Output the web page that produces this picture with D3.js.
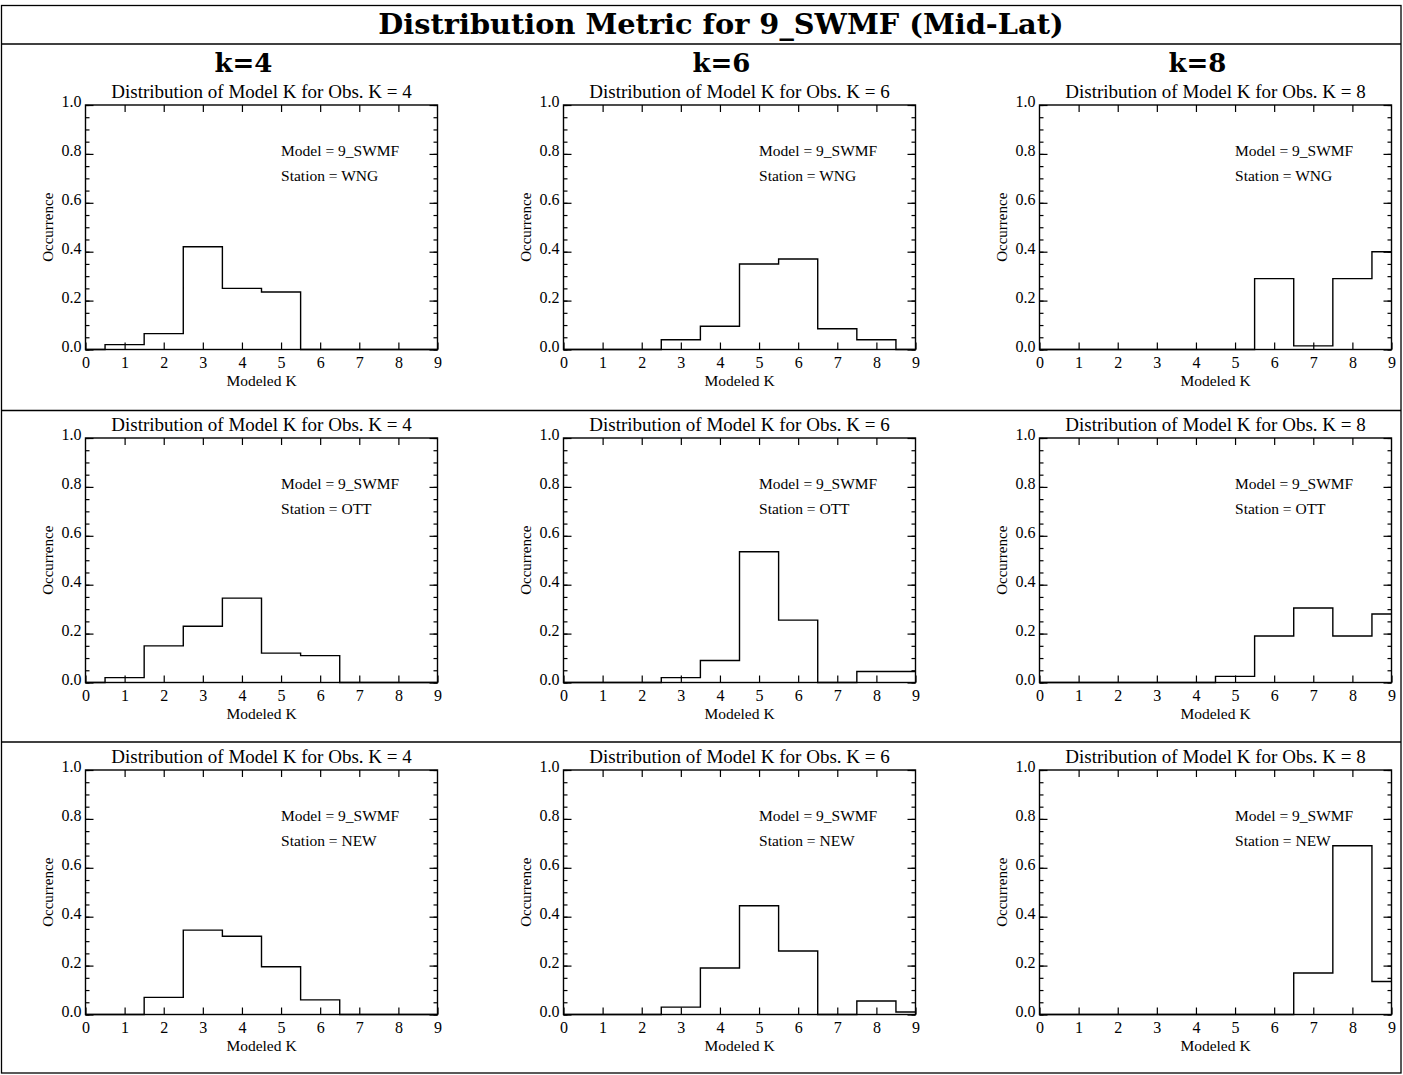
<!DOCTYPE html>
<html>
<head>
<meta charset="utf-8">
<script src="https://cdn.jsdelivr.net/npm/d3@7"></script>
<style>
  body { margin: 0; background: #fff; }
  text { fill: #000; }
</style>
</head>
<body>
<div id="chart"></div>
<script>
// Modeled K bins (0..9)
var kBins = [0, 1, 2, 3, 4, 5, 6, 7, 8, 9];
var obsK = [4, 6, 8];
var stations = ["WNG", "OTT", "NEW"];
var modelName = "9_SWMF";

// occurrence per modeled K, one array per station / observed K
var wng_k4 = [0, 0.02, 0.065, 0.42, 0.25, 0.235, 0, 0, 0, 0];
var wng_k6 = [0, 0, 0, 0.04, 0.095, 0.35, 0.37, 0.085, 0.04, 0];
var wng_k8 = [0, 0, 0, 0, 0, 0, 0.29, 0.015, 0.29, 0.40];

var ott_k4 = [0, 0.02, 0.15, 0.23, 0.345, 0.12, 0.11, 0, 0, 0];
var ott_k6 = [0, 0, 0, 0.02, 0.09, 0.535, 0.255, 0, 0.045, 0.045];
var ott_k8 = [0, 0, 0, 0, 0, 0.025, 0.19, 0.305, 0.19, 0.28];

var new_k4 = [0, 0, 0.07, 0.345, 0.32, 0.195, 0.06, 0, 0, 0];
var new_k6 = [0, 0, 0, 0.03, 0.19, 0.445, 0.26, 0, 0.055, 0.01];
var new_k8 = [0, 0, 0, 0, 0, 0, 0, 0.17, 0.69, 0.135];

var xTicks = [0, 1, 2, 3, 4, 5, 6, 7, 8, 9];
var yTicks = [0, 0.2, 0.4, 0.6, 0.8, 1.0];
var yMinor = d3.range(0, 1.0001, 0.05);

var rows = [
  [wng_k4, wng_k6, wng_k8],
  [ott_k4, ott_k6, ott_k8],
  [new_k4, new_k6, new_k8]
];

var W = 1403, H = 1075;
var colLeft = [85.5, 563.5, 1039.5];
var rowTop = [105, 438, 770];
var pw = 352, ph = 244.5;
var serif = "'Liberation Serif', 'Times New Roman', serif";

var svg = d3.select("#chart").append("svg")
  .attr("width", W)
  .attr("height", H);

// outer frame and separators
svg.append("rect")
  .attr("x", 1.5).attr("y", 5.5)
  .attr("width", 1399.5).attr("height", 1067.5)
  .attr("fill", "none").attr("stroke", "#000").attr("stroke-width", 1.3);
[44, 410.5, 742].forEach(function(y) {
  svg.append("line")
    .attr("x1", 1.5).attr("x2", 1401)
    .attr("y1", y).attr("y2", y)
    .attr("stroke", "#000").attr("stroke-width", 1.3);
});

svg.append("text")
  .attr("x", 721).attr("y", 34)
  .attr("text-anchor", "middle")
  .style("font-family", "'DejaVu Serif', serif")
  .style("font-weight", "bold")
  .style("font-size", "28.8px")
  .text("Distribution Metric for 9_SWMF (Mid-Lat)");

obsK.forEach(function(k, c) {
  svg.append("text")
    .attr("x", colLeft[c] + 158).attr("y", 72)
    .attr("text-anchor", "middle")
    .style("font-family", "'DejaVu Serif', serif")
    .style("font-weight", "bold")
    .style("font-size", "26px")
    .text("k=" + k);
});

var x = d3.scaleLinear().domain([0, 9]).range([0, pw]);
var y = d3.scaleLinear().domain([0, 1]).range([ph, 0]);

var line = d3.line()
  .x(function(d) { return x(d.k); })
  .y(function(d) { return y(d.v); })
  .curve(d3.curveStep);

rows.forEach(function(row, r) {
  row.forEach(function(vals, c) {
    var g = svg.append("g")
      .attr("transform", "translate(" + colLeft[c] + "," + rowTop[r] + ")");

    g.append("text")
      .attr("x", pw / 2).attr("y", -7)
      .attr("text-anchor", "middle")
      .style("font-family", serif).style("font-size", "19px")
      .text("Distribution of Model K for Obs. K = " + obsK[c]);

    // histogram
    var data = kBins.map(function(k, i) { return {k: k, v: vals[i]}; });
    g.append("path")
      .datum(data)
      .attr("d", line)
      .attr("fill", "none")
      .attr("stroke", "#000")
      .attr("stroke-width", 1.4);

    // box
    g.append("rect")
      .attr("width", pw).attr("height", ph)
      .attr("fill", "none").attr("stroke", "#000").attr("stroke-width", 1.4);

    // x ticks bottom + top
    g.append("g").attr("transform", "translate(0," + ph + ")")
      .call(d3.axisBottom(x).tickValues(xTicks).tickSize(-7).tickPadding(7)
        .tickFormat(d3.format("d")));
    g.append("g")
      .call(d3.axisTop(x).tickValues(xTicks.slice(1, -1)).tickSize(-7).tickFormat(""));

    // y ticks left + right, major and minor
    g.append("g")
      .call(d3.axisLeft(y).tickValues(yMinor).tickSize(-4).tickFormat(""));
    var yl = g.append("g")
      .call(d3.axisLeft(y).tickValues(yTicks).tickSize(-8).tickPadding(4)
        .tickFormat(d3.format(".1f")));
    yl.selectAll(".tick text").attr("dy", "0.1em");
    g.append("g").attr("transform", "translate(" + pw + ",0)")
      .call(d3.axisRight(y).tickValues(yMinor).tickSize(-4).tickFormat(""));
    g.append("g").attr("transform", "translate(" + pw + ",0)")
      .call(d3.axisRight(y).tickValues(yTicks).tickSize(-8).tickFormat(""));

    g.selectAll(".domain").remove();
    g.selectAll(".tick line").attr("stroke", "#000").attr("stroke-width", 1.2);
    g.selectAll(".tick text")
      .style("font-family", serif).style("font-size", "16px").attr("fill", "#000");

    g.append("text")
      .attr("transform", "translate(-33," + ph / 2 + ") rotate(-90)")
      .attr("text-anchor", "middle")
      .style("font-family", serif).style("font-size", "15px")
      .text("Occurrence");

    g.append("text")
      .attr("x", pw / 2).attr("y", ph + 36)
      .attr("text-anchor", "middle")
      .style("font-family", serif).style("font-size", "15.5px")
      .text("Modeled K");

    g.append("text")
      .attr("x", x(5)).attr("y", y(0.79))
      .style("font-family", serif).style("font-size", "15.5px")
      .text("Model = " + modelName);
    g.append("text")
      .attr("x", x(5)).attr("y", y(0.69))
      .style("font-family", serif).style("font-size", "15.5px")
      .text("Station = " + stations[r]);
  });
});
</script>
</body>
</html>
